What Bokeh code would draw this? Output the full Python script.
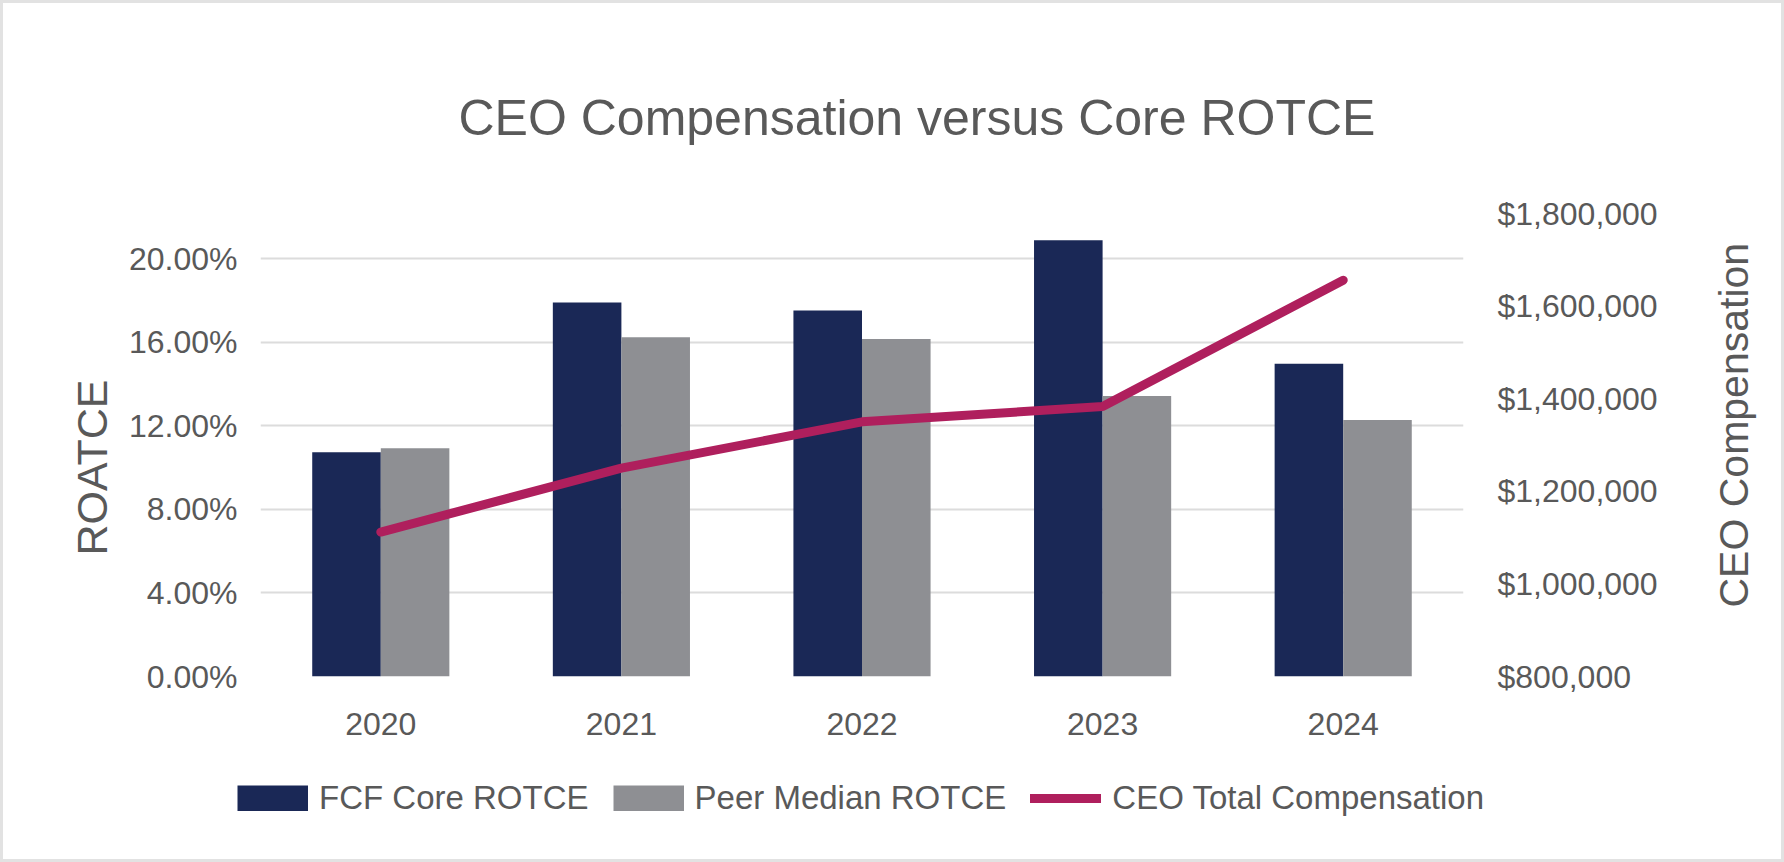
from bokeh.plotting import figure
from bokeh.layouts import column, row
from bokeh.models import (ColumnDataSource, FactorRange, Range1d, LinearAxis, FixedTicker,
                          NumeralTickFormatter, Legend, LegendItem, Title)
from bokeh.transform import dodge
from bokeh.embed import file_html
from bokeh.resources import INLINE

# ---- data ----
years = ["2020", "2021", "2022", "2023", "2024"]
fcf_core_rotce = [0.1074, 0.1791, 0.1753, 0.2089, 0.1498]
peer_median_rotce = [0.1093, 0.1624, 0.1616, 0.1343, 0.1228]
ceo_total_comp = [1112000, 1250000, 1350000, 1383000, 1656000]
left_ticks = [0.0, 0.04, 0.08, 0.12, 0.16, 0.20]
right_ticks = [800000, 1000000, 1200000, 1400000, 1600000, 1800000]

NAVY = "#1a2856"
GRAY = "#8e8f93"
MAGENTA = "#af1f5d"
TXT = "#595959"
FONT = "Liberation Sans"

src = ColumnDataSource(dict(year=years, fcf=fcf_core_rotce, peer=peer_median_rotce, ceo=ceo_total_comp))

p = figure(x_range=FactorRange(factors=years, range_padding=0),
           y_range=Range1d(0, 0.2217),
           width=1700, height=757,
           output_backend="svg", toolbar_location=None,
           min_border_left=257, min_border_right=240, min_border_top=210, min_border_bottom=84)
p.outline_line_color = None
p.background_fill_color = "white"
p.border_fill_color = "white"

p.extra_y_ranges = {"comp": Range1d(800000, 1800000)}

bar_kw = dict(width=0.285, source=src, line_color=None)
r1 = p.vbar(x=dodge("year", -0.1425, range=p.x_range), top="fcf", fill_color=NAVY, **bar_kw)
r2 = p.vbar(x=dodge("year", 0.1425, range=p.x_range), top="peer", fill_color=GRAY, **bar_kw)
line_kw = dict(line_color=MAGENTA, line_width=9, line_cap="round", line_join="round")
r3 = p.line(x="year", y="ceo", source=src, y_range_name="comp", **line_kw)

# grid
p.xgrid.grid_line_color = None
p.ygrid.ticker = FixedTicker(ticks=left_ticks)
p.ygrid.grid_line_color = "#dcdcdc"
p.ygrid.grid_line_width = 2


def style_axis(ax):
    ax.axis_line_color = None
    ax.major_tick_line_color = None
    ax.minor_tick_line_color = None
    ax.major_label_text_font = FONT
    ax.major_label_text_font_size = "32px"
    ax.major_label_text_color = TXT


# left axis
ya = p.yaxis[0]
ya.ticker = FixedTicker(ticks=left_ticks)
ya.formatter = NumeralTickFormatter(format="0.00%")
style_axis(ya)
ya.major_label_standoff = 17

p.add_layout(Title(text="ROATCE", text_font=FONT, text_font_size="43px", text_font_style="normal",
                   text_color=TXT, align="left", offset=121, standoff=15,
                   vertical_align="top"), "left")

# right axis: tick labels
ra = LinearAxis(y_range_name="comp", ticker=FixedTicker(ticks=right_ticks),
                formatter=NumeralTickFormatter(format="$0,0"))
style_axis(ra)
ra.major_label_standoff = 28
p.add_layout(ra, "right")

xa = p.xaxis[0]
style_axis(xa)
xa.major_label_standoff = 30

# title
p.title.text = "CEO Compensation versus Core ROTCE"
p.title.text_font = FONT
p.title.text_font_size = "50px"
p.title.text_font_style = "normal"
p.title.text_color = TXT
p.title.align = "left"
p.title.offset = 198
p.title.standoff = 135

# right-hand axis title strip (text reads bottom-to-top)
pr = figure(x_range=Range1d(0, 1), y_range=Range1d(0, 1),
            width=78, height=757, output_backend="svg", toolbar_location=None,
            min_border=0, min_border_left=53, x_axis_location=None, y_axis_location=None)
pr.frame_align = False
pr.outline_line_color = None
pr.background_fill_color = "white"
pr.border_fill_color = "white"
pr.grid.grid_line_color = None
pr.add_layout(Title(text="CEO Compensation", text_font=FONT, text_font_size="41px",
                    text_font_style="normal", text_color=TXT, align="left", offset=153,
                    standoff=0), "left")

# legend strip
pl = figure(x_range=FactorRange(factors=years), y_range=Range1d(0, 1),
            width=1778, height=99, output_backend="svg", toolbar_location=None,
            min_border=0, x_axis_location=None, y_axis_location=None)
pl.frame_align = False
pl.outline_line_color = None
pl.background_fill_color = "white"
pl.border_fill_color = "white"
pl.grid.grid_line_color = None
swatch_kw = dict(source=src, line_width=26, line_cap="butt", visible=False)
l1 = pl.line(x="year", y="fcf", line_color=NAVY, **swatch_kw)
l2 = pl.line(x="year", y="peer", line_color=GRAY, **swatch_kw)
l3 = pl.line(x="year", y="ceo", source=src, visible=False, **line_kw)

legend = Legend(items=[LegendItem(label="FCF Core ROTCE", renderers=[l1]),
                       LegendItem(label="Peer Median ROTCE", renderers=[l2]),
                       LegendItem(label="CEO Total Compensation", renderers=[l3])],
                orientation="horizontal", location=(234, 42),
                glyph_width=71, glyph_height=26, label_standoff=11, spacing=24,
                padding=0, margin=0, border_line_color=None, background_fill_alpha=0,
                inactive_fill_alpha=0,
                label_text_font=FONT, label_text_font_size="33px", label_text_color=TXT,
                label_height=26)
pl.add_layout(legend, "center")

layout = column(row(p, pr, spacing=0), pl, spacing=0,
                styles={"border": "3px solid #e2e2e2", "background": "white"})

open("out.html", "w").write(file_html(layout, INLINE))
